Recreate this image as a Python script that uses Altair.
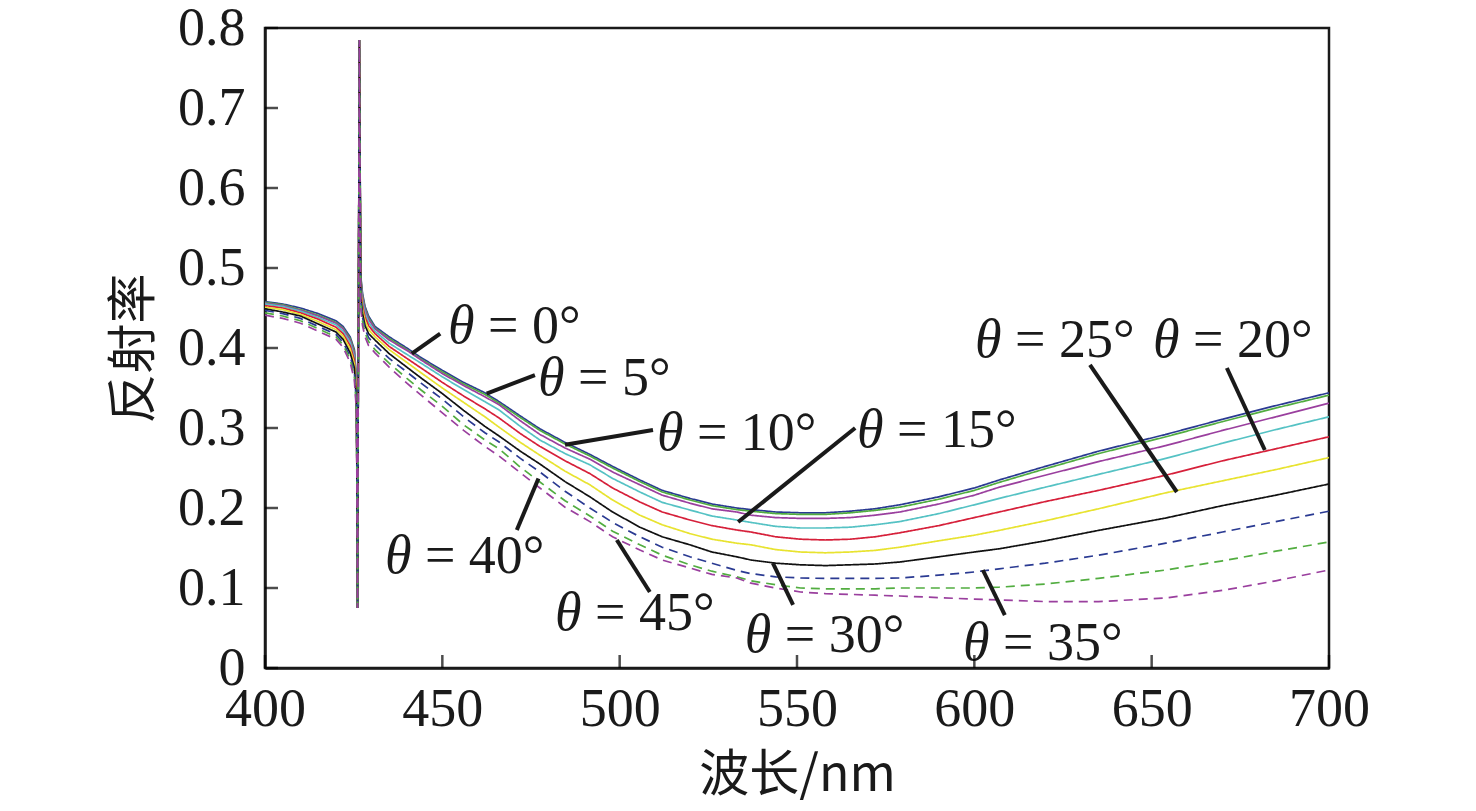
import altair as alt
import pandas as pd

# wavelengths (nm)
wl = [400, 405, 410, 415, 420, 422, 424, 425.2, 425.8, 426.1, 426.6, 427.0, 427.5, 428.2, 429.2,
      431, 435, 440, 444, 450, 456, 462, 466, 472, 477.5, 484.6, 491.6, 498, 505.7, 512,
      519.8, 526, 533, 537, 544, 551, 558, 565, 572, 579, 590, 600, 607, 620, 635, 654, 670, 685, 700]

r0 = [.458, .455, .450, .443, .434, .427, .414, .398, .360, .075, .785, .490, .468, .452, .440,
      .427, .414, .400, .388, .372, .357, .344, .333, .315, .299, .282, .267, .252, .235, .222,
      .212, .205, .200, .198, .195, .194, .194, .196, .199, .204, .214, .225, .235, .252, .271, .292, .311, .328, .344]
r5 = [.457, .454, .448, .441, .432, .425, .412, .396, .358, .075, .785, .488, .466, .450, .438,
      .425, .412, .398, .386, .370, .355, .342, .331, .313, .297, .280, .265, .250, .233, .220,
      .210, .203, .198, .196, .193, .192, .192, .194, .197, .201, .211, .222, .232, .249, .268, .289, .308, .325, .341]
r10 = [.456, .453, .447, .440, .431, .424, .410, .393, .355, .075, .785, .485, .463, .448, .436,
       .424, .410, .397, .385, .368, .353, .339, .329, .309, .292, .275, .261, .245, .229, .216,
       .206, .199, .195, .191, .188, .187, .187, .188, .191, .195, .205, .216, .226, .241, .258, .278, .297, .314, .331]
r15 = [.455, .452, .446, .438, .429, .421, .407, .389, .350, .075, .785, .480, .458, .444, .432,
       .421, .406, .392, .381, .364, .348, .333, .3225, .302, .285, .268, .254, .237, .220, .207,
       .1975, .190, .185, .182, .177, .175, .175, .176, .179, .183, .193, .204, .212, .226, .242, .262, .281, .298, .314]
r20 = [.453, .450, .444, .436, .426, .418, .403, .385, .345, .075, .785, .475, .453, .439, .428,
       .418, .402, .387, .375, .357, .340, .324, .3125, .293, .277, .259, .243, .225, .2075, .195,
       .185, .178, .1725, .170, .164, .161, .160, .161, .164, .169, .178, .188, .195, .208, .222, .241, .259, .274, .289]
r25 = [.451, .448, .442, .433, .423, .415, .399, .380, .340, .075, .785, .470, .448, .434, .423,
       .414, .398, .382, .369, .350, .332, .314, .301, .282, .266, .246, .229, .210, .191, .179,
       .168, .161, .156, .154, .148, .145, .144, .145, .147, .151, .159, .166, .172, .184, .199, .219, .234, .248, .263]
r30 = [.449, .445, .440, .430, .420, .411, .394, .375, .335, .075, .785, .465, .443, .428, .418,
       .410, .393, .376, .3625, .343, .322, .302, .290, .271, .255, .233, .214, .195, .176, .164,
       .154, .145, .139, .135, .131, .129, .128, .129, .130, .1325, .139, .145, .149, .159, .172, .1875, .203, .216, .230]
r35 = [.447, .443, .437, .427, .417, .407, .390, .370, .330, .075, .785, .460, .438, .424, .413,
       .404, .387, .370, .356, .336, .314, .294, .2825, .262, .245, .221, .200, .182, .164, .151,
       .139, .131, .122, .118, .114, .1125, .112, .112, .112, .1125, .116, .120, .124, .131, .141, .156, .170, .183, .196]
r40 = [.444, .440, .434, .424, .414, .404, .386, .365, .325, .075, .785, .455, .433, .419, .408,
       .398, .381, .362, .3475, .327, .304, .285, .274, .251, .2325, .209, .190, .171, .154, .141,
       .129, .121, .114, .109, .104, .100, .099, .099, .099, .100, .100, .100, .101, .105, .112, .1225, .134, .146, .1575]
r45 = [.441, .437, .431, .421, .411, .401, .382, .360, .320, .075, .785, .450, .428, .414, .403,
       .394, .376, .356, .341, .319, .297, .277, .265, .244, .225, .201, .183, .164, .1475, .135,
       .125, .117, .1125, .106, .100, .095, .093, .092, .091, .090, .088, .086, .085, .083, .083, .0875, .097, .109, .1225]

series_names = ["0", "5", "10", "15", "20", "25", "30", "35", "40", "45"]
series_vals = [r0, r5, r10, r15, r20, r25, r30, r35, r40, r45]
series_colors = ["#2a3a92", "#52ad40", "#9a3f9e", "#55c2c4", "#d6203a", "#e8e330",
                 "#111111", "#2a3a92", "#52ad40", "#9a3f9e"]
series_dash = [[1, 0]] * 7 + [[9, 6]] * 3

x_ticks = [400, 450, 500, 550, 600, 650, 700]
y_ticks = [0, 0.1, 0.2, 0.3, 0.4, 0.5, 0.6, 0.7, 0.8]

# annotation labels (text baseline-left anchor in data units)
lab_text = ["= 0°", "= 5°", "= 10°", "= 15°", "= 20°", "= 25°", "= 30°", "= 35°", "= 40°", "= 45°"]
lab_x = [451.6, 477.0, 510.5, 566.9, 650.4, 600.2, 535.3, 596.8, 433.8, 481.8]
lab_y = [0.406, 0.341, 0.2725, 0.276, 0.389, 0.389, 0.020, 0.010, 0.119, 0.0475]
# leader lines
ptr_x1 = [441.4, 462.5, 484.6, 533.4, 671.2, 632.6, 543.2, 602.4, 471.0, 499.2]
ptr_y1 = [0.393, 0.343, 0.279, 0.1825, 0.375, 0.379, 0.131, 0.1225, 0.1725, 0.160]
ptr_x2 = [449.4, 476.1, 509.4, 566.4, 681.9, 657.1, 548.9, 608.6, 477.1, 508.5]
ptr_y2 = [0.418, 0.366, 0.2975, 0.300, 0.2725, 0.220, 0.079, 0.066, 0.237, 0.095]

rows = []
for name, vals in zip(series_names, series_vals):
    for w, v in zip(wl, vals):
        rows.append({"wl": w, "r": v, "series": name})
df = pd.DataFrame(rows)

serif = "Liberation Serif"
cjk = "Noto Sans CJK SC"

xscale = alt.Scale(domain=[400, 700], nice=False, zero=False)
yscale = alt.Scale(domain=[0, 0.8], nice=False)
xaxis = alt.Axis(values=x_ticks, title="波长/nm", tickSize=0, labelPadding=14, labelFlush=False,
                 titlePadding=14, grid=False)
yaxis = alt.Axis(values=y_ticks, title="反射率", tickSize=0, labelPadding=20, labelFlush=False,
                 titlePadding=18, grid=False, format="~g")

lines = alt.Chart(df).mark_line(strokeWidth=1.7, clip=True).encode(
    x=alt.X("wl:Q", scale=xscale, axis=xaxis),
    y=alt.Y("r:Q", scale=yscale, axis=yaxis),
    color=alt.Color("series:N", scale=alt.Scale(domain=series_names, range=series_colors), legend=None),
    strokeDash=alt.StrokeDash("series:N", scale=alt.Scale(domain=series_names, range=series_dash), legend=None),
)

ytick = alt.Chart(pd.DataFrame({"v": y_ticks})).mark_tick(
    orient="horizontal", size=13, thickness=2.5, color="black").encode(
    y=alt.Y("v:Q", scale=yscale, axis=yaxis), x=alt.value(6.5))
xtick = alt.Chart(pd.DataFrame({"v": x_ticks})).mark_tick(
    orient="vertical", size=13, thickness=2.5, color="black").encode(
    x=alt.X("v:Q", scale=xscale, axis=xaxis), y=alt.value(633.5))

lab_df = pd.DataFrame({"lx": lab_x, "ly": lab_y, "txt": lab_text, "th": ["θ"] * len(lab_text)})
theta = alt.Chart(lab_df).mark_text(font=serif, fontStyle="italic", fontSize=54, align="left",
                                    baseline="alphabetic", color="#1a1a1a").encode(
    x=alt.X("lx:Q", scale=xscale, axis=xaxis), y=alt.Y("ly:Q", scale=yscale, axis=yaxis), text="th:N")
rest = alt.Chart(lab_df).mark_text(font=serif, fontSize=54, align="left", dx=40,
                                   baseline="alphabetic", color="#1a1a1a").encode(
    x=alt.X("lx:Q", scale=xscale, axis=xaxis), y=alt.Y("ly:Q", scale=yscale, axis=yaxis), text="txt:N")

ptr_df = pd.DataFrame({"x1": ptr_x1, "y1": ptr_y1, "x2": ptr_x2, "y2": ptr_y2})
ptrs = alt.Chart(ptr_df).mark_rule(strokeWidth=4, color="#1a1a1a").encode(
    x=alt.X("x1:Q", scale=xscale, axis=xaxis), y=alt.Y("y1:Q", scale=yscale, axis=yaxis),
    x2="x2:Q", y2="y2:Q")

chart = alt.layer(lines, ptrs, theta, rest, ytick, xtick).properties(
    width=1064, height=640,
    autosize=alt.AutoSizeParams(type="none"),
    padding={"left": 257, "top": 20, "right": 100, "bottom": 140},
).configure_view(stroke="#1a1a1a", strokeWidth=2.5).configure_axis(
    domainColor="#1a1a1a", domainWidth=2.5,
    labelFont=serif, labelFontSize=54, labelColor="#1a1a1a",
    titleFont=cjk, titleFontSize=50, titleFontWeight="normal", titleColor="#1a1a1a",
)

chart.save("out.html", embed_options={"renderer": "svg", "actions": False})
